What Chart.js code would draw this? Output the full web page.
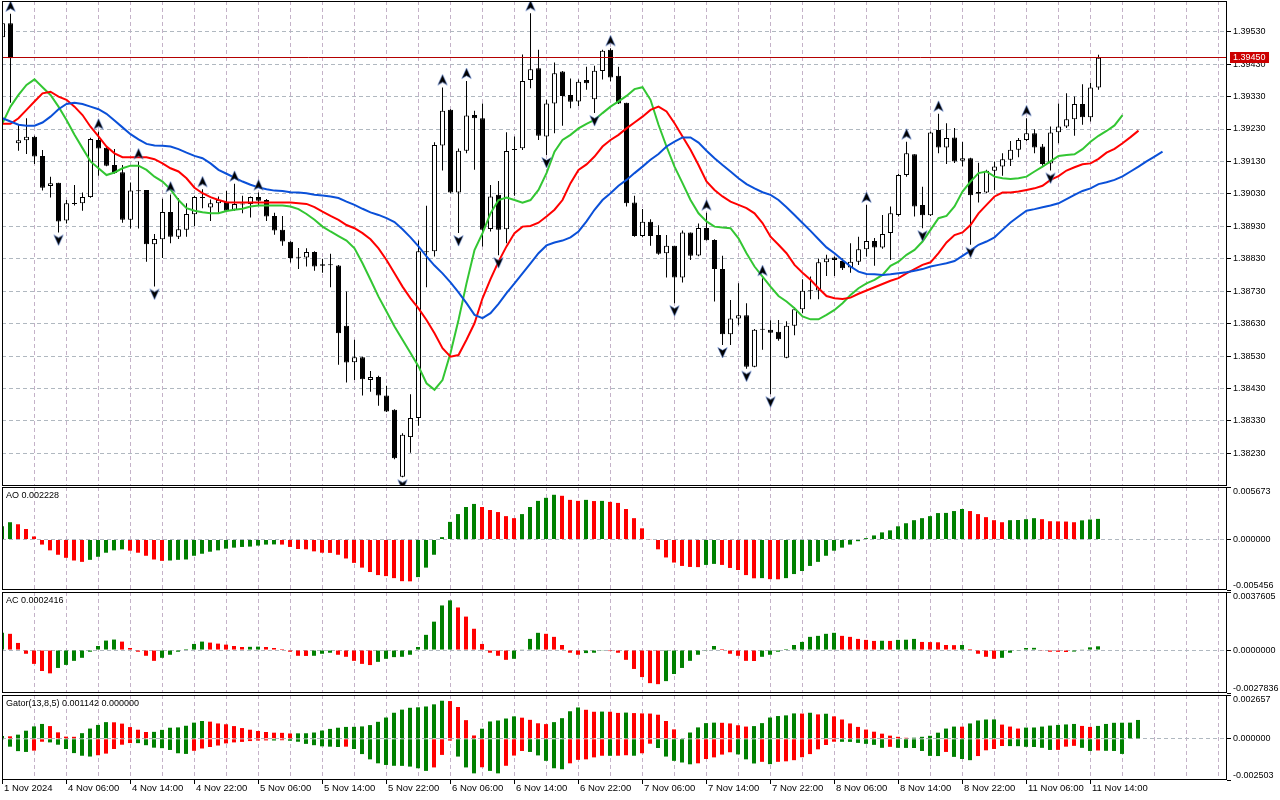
<!DOCTYPE html>
<html>
<head>
<meta charset="utf-8">
<title>Alligator / AO / AC / Gator</title>
<script src="https://cdn.jsdelivr.net/npm/chart.js@4.4.1/dist/chart.umd.min.js"></script>
<style>
  html, body { margin: 0; padding: 0; background: #fff; }
  #wrap { position: relative; width: 1280px; height: 800px; overflow: hidden; background: #fff; }
  canvas { position: absolute; left: 0; }
</style>
</head>
<body>
<div id="wrap">
  <canvas id="main" width="1280" height="487" style="top:0px"></canvas>
  <canvas id="ao" width="1280" height="105" style="top:486px"></canvas>
  <canvas id="ac" width="1280" height="103" style="top:591px"></canvas>
  <canvas id="gator" width="1280" height="107" style="top:694px"></canvas>
</div>
<script>
// ---- hourly candles, bar 0 = 1 Nov 22:00 ----
const opens = [
  1.39513, 1.39556, 1.39186, 1.39195, 1.39206, 1.39147, 1.39054, 1.39064, 1.38948, 1.39001,
  1.39001, 1.39020, 1.39196, 1.39172, 1.39119, 1.39097, 1.38950, 1.39040, 1.39042, 1.38875,
  1.38890, 1.38974, 1.38898, 1.38919, 1.38967, 1.39020, 1.38988, 1.39001, 1.39006, 1.38981,
  1.38999, 1.38999, 1.39020, 1.39011, 1.38962, 1.38919, 1.38882, 1.38835, 1.38834, 1.38851,
  1.38808, 1.38813, 1.38809, 1.38623, 1.38511, 1.38526, 1.38456, 1.38465, 1.38408, 1.38364,
  1.38158, 1.38280, 1.38339, 1.38851, 1.38853, 1.39179, 1.39289, 1.39034, 1.39163, 1.39273,
  1.39263, 1.38922, 1.39027, 1.38921, 1.39167, 1.39171, 1.39381, 1.39417, 1.39207, 1.39309,
  1.39407, 1.39335, 1.39315, 1.39381, 1.39322, 1.39409, 1.39474, 1.39394, 1.39311, 1.39003,
  1.38900, 1.38944, 1.38903, 1.38847, 1.38870, 1.38772, 1.38911, 1.38840, 1.38925, 1.38888,
  1.38798, 1.38597, 1.38646, 1.38656, 1.38497, 1.38613, 1.38611, 1.38605, 1.38525, 1.38623,
  1.38674, 1.38732, 1.38732, 1.38819, 1.38834, 1.38823, 1.38803, 1.38821, 1.38859, 1.38885,
  1.38865, 1.38909, 1.38965, 1.39088, 1.39152, 1.38996, 1.38964, 1.39227, 1.39173, 1.39204,
  1.39132, 1.39140, 1.39030, 1.39034, 1.39101, 1.39114, 1.39135, 1.39166, 1.39196, 1.39217,
  1.39176, 1.39124, 1.39220, 1.39238, 1.39260, 1.39307, 1.39266, 1.39358
];
const highs = [
  1.39561, 1.39585, 1.39243, 1.39263, 1.39209, 1.39165, 1.39083, 1.39064, 1.39011, 1.39057,
  1.39034, 1.39203, 1.39222, 1.39176, 1.39168, 1.39119, 1.39065, 1.39130, 1.39042, 1.38906,
  1.39015, 1.39028, 1.39017, 1.39001, 1.39024, 1.39044, 1.39013, 1.39022, 1.39039, 1.39061,
  1.39024, 1.39022, 1.39034, 1.39014, 1.38972, 1.38962, 1.38884, 1.38863, 1.38862, 1.38853,
  1.38830, 1.38845, 1.38811, 1.38729, 1.38580, 1.38528, 1.38484, 1.38469, 1.38438, 1.38366,
  1.38292, 1.38412, 1.38886, 1.38993, 1.39189, 1.39358, 1.39291, 1.39170, 1.39378, 1.39286,
  1.39309, 1.39057, 1.39070, 1.39220, 1.39207, 1.39460, 1.39587, 1.39474, 1.39320, 1.39435,
  1.39409, 1.39386, 1.39383, 1.39422, 1.39425, 1.39474, 1.39479, 1.39422, 1.39311, 1.39024,
  1.38983, 1.38952, 1.38933, 1.38903, 1.38870, 1.38917, 1.38911, 1.38939, 1.38972, 1.38890,
  1.38839, 1.38703, 1.38754, 1.38693, 1.38613, 1.38770, 1.38640, 1.38641, 1.38637, 1.38680,
  1.38767, 1.38775, 1.38831, 1.38842, 1.38837, 1.38831, 1.38878, 1.38898, 1.38996, 1.38894,
  1.38965, 1.38991, 1.39092, 1.39191, 1.39152, 1.39052, 1.39222, 1.39277, 1.39248, 1.39233,
  1.39190, 1.39141, 1.39126, 1.39104, 1.39130, 1.39155, 1.39193, 1.39202, 1.39263, 1.39229,
  1.39184, 1.39238, 1.39309, 1.39340, 1.39330, 1.39368, 1.39373, 1.39459
];
const lows = [
  1.39510, 1.39311, 1.39163, 1.39153, 1.39122, 1.39040, 1.39019, 1.38911, 1.38939, 1.38994,
  1.38978, 1.39018, 1.39086, 1.39115, 1.39092, 1.38941, 1.38923, 1.38923, 1.38821, 1.38744,
  1.38832, 1.38878, 1.38891, 1.38898, 1.38931, 1.38986, 1.38946, 1.38972, 1.38976, 1.38978,
  1.38970, 1.38957, 1.38996, 1.38946, 1.38904, 1.38870, 1.38818, 1.38798, 1.38806, 1.38793,
  1.38787, 1.38742, 1.38503, 1.38448, 1.38456, 1.38408, 1.38420, 1.38377, 1.38357, 1.38212,
  1.38156, 1.38232, 1.38315, 1.38742, 1.38837, 1.39102, 1.39032, 1.38909, 1.39155, 1.39104,
  1.38868, 1.38914, 1.38841, 1.38878, 1.39024, 1.39165, 1.39356, 1.39196, 1.39150, 1.39217,
  1.39240, 1.39294, 1.39301, 1.39351, 1.39279, 1.39383, 1.39377, 1.39307, 1.38991, 1.38898,
  1.38896, 1.38870, 1.38842, 1.38772, 1.38693, 1.38757, 1.38826, 1.38838, 1.38886, 1.38698,
  1.38564, 1.38564, 1.38625, 1.38491, 1.38495, 1.38549, 1.38412, 1.38577, 1.38523, 1.38594,
  1.38662, 1.38705, 1.38705, 1.38777, 1.38777, 1.38795, 1.38787, 1.38811, 1.38837, 1.38808,
  1.38861, 1.38826, 1.38960, 1.39083, 1.38960, 1.38924, 1.38962, 1.39155, 1.39122, 1.39125,
  1.39114, 1.38873, 1.39003, 1.39032, 1.39042, 1.39086, 1.39116, 1.39143, 1.39193, 1.39155,
  1.39117, 1.39102, 1.39186, 1.39233, 1.39209, 1.39243, 1.39253, 1.39351
];
const closes = [
  1.39556, 1.39448, 1.39195, 1.39206, 1.39145, 1.39049, 1.39063, 1.38945, 1.39001, 1.38999,
  1.39020, 1.39199, 1.39170, 1.39117, 1.39094, 1.38950, 1.39040, 1.39038, 1.38875, 1.38891,
  1.38974, 1.38898, 1.38921, 1.38968, 1.39020, 1.39017, 1.39001, 1.39011, 1.38978, 1.38999,
  1.38997, 1.39020, 1.39009, 1.38960, 1.38917, 1.38883, 1.38832, 1.38833, 1.38851, 1.38806,
  1.38813, 1.38810, 1.38600, 1.38510, 1.38526, 1.38458, 1.38465, 1.38408, 1.38359, 1.38215,
  1.38287, 1.38339, 1.38853, 1.38850, 1.39181, 1.39286, 1.39034, 1.39163, 1.39272, 1.39263,
  1.38919, 1.39022, 1.38919, 1.39162, 1.39165, 1.39378, 1.39414, 1.39209, 1.39309, 1.39402,
  1.39332, 1.39314, 1.39376, 1.39371, 1.39410, 1.39471, 1.39389, 1.39309, 1.39001, 1.38900,
  1.38944, 1.38900, 1.38845, 1.38870, 1.38772, 1.38911, 1.38839, 1.38925, 1.38887, 1.38798,
  1.38597, 1.38646, 1.38656, 1.38497, 1.38611, 1.38611, 1.38602, 1.38582, 1.38623, 1.38674,
  1.38731, 1.38730, 1.38819, 1.38831, 1.38826, 1.38801, 1.38821, 1.38859, 1.38885, 1.38865,
  1.38906, 1.38970, 1.39088, 1.39155, 1.38991, 1.38964, 1.39219, 1.39173, 1.39202, 1.39130,
  1.39140, 1.39026, 1.39036, 1.39101, 1.39114, 1.39137, 1.39166, 1.39196, 1.39217, 1.39173,
  1.39122, 1.39219, 1.39238, 1.39260, 1.39307, 1.39266, 1.39358, 1.39450
];

// ---- Alligator lines (as drawn, shifted forward) ----
const jaw = [
  1.39263, 1.39253, 1.39243, 1.39240, 1.39240, 1.39250, 1.39268, 1.39291, 1.39307, 1.39311,
  1.39307, 1.39299, 1.39291, 1.39277, 1.39256, 1.39235, 1.39214, 1.39198, 1.39184, 1.39179,
  1.39178, 1.39176, 1.39168, 1.39157, 1.39147, 1.39140, 1.39124, 1.39104, 1.39092, 1.39080,
  1.39068, 1.39058, 1.39050, 1.39044, 1.39040, 1.39039, 1.39035, 1.39034, 1.39032, 1.39027,
  1.39025, 1.39022, 1.39017, 1.39006, 1.38996, 1.38984, 1.38973, 1.38965, 1.38955, 1.38943,
  1.38921, 1.38896, 1.38868, 1.38837, 1.38809, 1.38785, 1.38757, 1.38726, 1.38693, 1.38657,
  1.38647, 1.38662, 1.38691, 1.38724, 1.38754, 1.38785, 1.38816, 1.38847, 1.38871, 1.38880,
  1.38886, 1.38896, 1.38914, 1.38945, 1.38981, 1.39011, 1.39032, 1.39055, 1.39073, 1.39094,
  1.39114, 1.39135, 1.39153, 1.39176, 1.39191, 1.39204, 1.39204, 1.39188, 1.39163, 1.39140,
  1.39119, 1.39099, 1.39078, 1.39060, 1.39047, 1.39035, 1.39027, 1.39011, 1.38989, 1.38965,
  1.38940, 1.38916, 1.38890, 1.38865, 1.38847, 1.38826, 1.38806, 1.38790, 1.38783, 1.38782,
  1.38780, 1.38782, 1.38785, 1.38788, 1.38793, 1.38798, 1.38806, 1.38811, 1.38816, 1.38823,
  1.38839, 1.38855, 1.38873, 1.38883, 1.38896, 1.38919, 1.38942, 1.38960, 1.38978, 1.38983,
  1.38989, 1.38994, 1.39001, 1.39014, 1.39027, 1.39039, 1.39047, 1.39060, 1.39066, 1.39073,
  1.39084, 1.39099, 1.39114, 1.39130, 1.39145, 1.39160
];
const teeth = [
  1.39246, 1.39246, 1.39263, 1.39289, 1.39315, 1.39340, 1.39345, 1.39330, 1.39320, 1.39299,
  1.39273, 1.39237, 1.39207, 1.39176, 1.39155, 1.39143, 1.39143, 1.39143, 1.39143, 1.39137,
  1.39124, 1.39109, 1.39099, 1.39078, 1.39049, 1.39032, 1.39020, 1.39011, 1.39004, 1.39003,
  1.39003, 1.39003, 1.39003, 1.39003, 1.39003, 1.39003, 1.39003, 1.39001, 1.38999, 1.38989,
  1.38975, 1.38962, 1.38950, 1.38934, 1.38924, 1.38909, 1.38890, 1.38862, 1.38826, 1.38785,
  1.38744, 1.38708, 1.38677, 1.38641, 1.38600, 1.38554, 1.38528, 1.38533, 1.38580, 1.38631,
  1.38708, 1.38767, 1.38821, 1.38868, 1.38909, 1.38929, 1.38931, 1.38941, 1.38960, 1.38981,
  1.39011, 1.39063, 1.39104, 1.39121, 1.39145, 1.39176, 1.39196, 1.39212, 1.39232, 1.39250,
  1.39268, 1.39289, 1.39299, 1.39284, 1.39248, 1.39207, 1.39166, 1.39119, 1.39068, 1.39042,
  1.39022, 1.39006, 1.38996, 1.38986, 1.38970, 1.38940, 1.38898, 1.38873, 1.38847, 1.38811,
  1.38787, 1.38765, 1.38739, 1.38715, 1.38708, 1.38706, 1.38710, 1.38722, 1.38732, 1.38742,
  1.38752, 1.38762, 1.38770, 1.38785, 1.38798, 1.38811, 1.38819, 1.38847, 1.38880, 1.38903,
  1.38911, 1.38934, 1.38970, 1.38996, 1.39022, 1.39034, 1.39034, 1.39037, 1.39042, 1.39047,
  1.39055, 1.39073, 1.39085, 1.39102, 1.39112, 1.39121, 1.39124, 1.39138, 1.39157, 1.39169,
  1.39186, 1.39205, 1.39225
];
const lips = [
  1.39248, 1.39299, 1.39335, 1.39366, 1.39383, 1.39359, 1.39335, 1.39299, 1.39258, 1.39212,
  1.39171, 1.39130, 1.39109, 1.39088, 1.39096, 1.39109, 1.39117, 1.39117, 1.39104, 1.39083,
  1.39068, 1.39044, 1.39011, 1.38986, 1.38978, 1.38973, 1.38970, 1.38970, 1.38977, 1.38981,
  1.38984, 1.38991, 1.38994, 1.38994, 1.38994, 1.38994, 1.38991, 1.38983, 1.38968, 1.38950,
  1.38929, 1.38914, 1.38900, 1.38886, 1.38862, 1.38816, 1.38765, 1.38713, 1.38667, 1.38621,
  1.38580, 1.38539, 1.38498, 1.38446, 1.38426, 1.38456, 1.38539, 1.38641, 1.38754, 1.38857,
  1.38909, 1.38970, 1.39011, 1.39019, 1.39011, 1.39003, 1.39011, 1.39042, 1.39094, 1.39160,
  1.39196, 1.39212, 1.39232, 1.39246, 1.39258, 1.39279, 1.39299, 1.39315, 1.39332, 1.39353,
  1.39359, 1.39320, 1.39243, 1.39176, 1.39114, 1.39063, 1.39011, 1.38970, 1.38945, 1.38929,
  1.38926, 1.38924, 1.38893, 1.38847, 1.38806, 1.38775, 1.38744, 1.38715, 1.38698, 1.38677,
  1.38652, 1.38643, 1.38643, 1.38657, 1.38672, 1.38693, 1.38718, 1.38739, 1.38754, 1.38765,
  1.38780, 1.38808, 1.38821, 1.38842, 1.38857, 1.38883, 1.38919, 1.38955, 1.38962, 1.38991,
  1.39037, 1.39068, 1.39094, 1.39099, 1.39083, 1.39078, 1.39076, 1.39078, 1.39083, 1.39099,
  1.39114, 1.39130, 1.39147, 1.39150, 1.39152, 1.39168, 1.39191, 1.39209, 1.39224, 1.39241,
  1.39273
];

// ---- Fractals (bar numbers) ----
const fractalUpBars = [1, 12, 17, 21, 25, 29, 32, 55, 58, 66, 76, 88, 95, 108, 113, 117, 128];
const fractalDownBars = [7, 19, 50, 57, 62, 68, 74, 84, 90, 93, 96, 115, 121, 131];

// ---- Awesome Oscillator ----
const aoValues = [
  0.001428, 0.001867, 0.001647, 0.001135, 0.000329, -0.000549, -0.001172, -0.001647, -0.001977, -0.002270,
  -0.002416, -0.002197, -0.001867, -0.001428, -0.001172, -0.001062, -0.001208, -0.001428, -0.001757, -0.002160,
  -0.002306, -0.002270, -0.002197, -0.002160, -0.001757, -0.001538, -0.001318, -0.001172, -0.000988, -0.000879,
  -0.000805, -0.000769, -0.000659, -0.000549, -0.000531, -0.000549, -0.000805, -0.001025, -0.001062, -0.001281,
  -0.001428, -0.001446, -0.001647, -0.002050, -0.002526, -0.003039, -0.003515, -0.003844, -0.003954, -0.004174,
  -0.004503, -0.004521, -0.004064, -0.003039, -0.001647, 0.000256, 0.001904, 0.002746, 0.003515, 0.003844,
  0.003515, 0.003185, 0.002965, 0.002526, 0.002306, 0.002746, 0.003515, 0.004174, 0.004503, 0.004833,
  0.004723, 0.004283, 0.004174, 0.004283, 0.004155, 0.004174, 0.004064, 0.003954, 0.003295, 0.002306,
  0.001208, -0.000037, -0.001062, -0.001940, -0.002489, -0.002856, -0.002965, -0.002984, -0.002746, -0.002636,
  -0.002746, -0.003075, -0.003295, -0.003844, -0.004192, -0.004174, -0.004283, -0.004302, -0.004174, -0.003734,
  -0.003405, -0.002856, -0.002416, -0.001757, -0.001208, -0.000879, -0.000549, -0.000183, 0.000146, 0.000439,
  0.000769, 0.000988, 0.001428, 0.001757, 0.002087, 0.002306, 0.002526, 0.002856, 0.002874, 0.003075,
  0.003295, 0.003075, 0.002746, 0.002416, 0.002087, 0.001867, 0.002087, 0.002105, 0.002197, 0.002306,
  0.002197, 0.001977, 0.001959, 0.001940, 0.001867, 0.002068, 0.002160, 0.002228
];

// ---- Accelerator Oscillator ----
const acValues = [
  0.001116, 0.001051, 0.000460, -0.000241, -0.000897, -0.001357, -0.001510, -0.001160, -0.000963, -0.000700,
  -0.000503, -0.000109, 0.000263, 0.000613, 0.000679, 0.000547, 0.000131, -0.000109, -0.000372, -0.000700,
  -0.000503, -0.000306, -0.000109, 0.000066, 0.000394, 0.000547, 0.000482, 0.000416, 0.000350, 0.000263,
  0.000197, 0.000208, 0.000219, 0.000197, 0.000131, 0.000066, -0.000109, -0.000372, -0.000383, -0.000372,
  -0.000241, -0.000175, -0.000306, -0.000438, -0.000700, -0.000897, -0.000974, -0.000766, -0.000569, -0.000460,
  -0.000438, -0.000306, 0.000197, 0.000985, 0.001839, 0.002889, 0.003218, 0.002758, 0.002167, 0.001379,
  0.000394, -0.000175, -0.000372, -0.000635, -0.000569, 0.000022, 0.000722, 0.001116, 0.001051, 0.000854,
  0.000328, -0.000175, -0.000306, -0.000197, -0.000175, -0.000044, -0.000066, -0.000175, -0.000635, -0.001226,
  -0.001751, -0.002145, -0.002211, -0.002014, -0.001554, -0.001160, -0.000700, -0.000306, -0.000044, 0.000263,
  0.000066, -0.000241, -0.000372, -0.000700, -0.000711, -0.000438, -0.000306, -0.000109, 0.000066, 0.000328,
  0.000525, 0.000854, 0.000919, 0.001051, 0.001116, 0.000919, 0.000854, 0.000722, 0.000657, 0.000591,
  0.000602, 0.000591, 0.000657, 0.000668, 0.000722, 0.000525, 0.000514, 0.000503, 0.000328, 0.000317,
  0.000328, 0.000066, -0.000241, -0.000438, -0.000569, -0.000503, -0.000175, -0.000022, 0.000131, 0.000142,
  -0.000044, -0.000109, -0.000114, -0.000127, -0.000099, 0.000044, 0.000175, 0.0002416
];

// ---- Gator oscillator (upper above zero, lower below zero) ----
const gatorUpper = [
  0.00017, 0.00015, 0.00025, 0.00049, 0.00075, 0.00090, 0.00077, 0.00039, 0.00013, 0.00012,
  0.00034, 0.00062, 0.00084, 0.00101, 0.00100, 0.00092, 0.00071, 0.00055, 0.00041, 0.00042,
  0.00054, 0.00067, 0.00069, 0.00079, 0.00098, 0.00108, 0.00104, 0.00093, 0.00088, 0.00077,
  0.00065, 0.00055, 0.00047, 0.00041, 0.00037, 0.00036, 0.00032, 0.00033, 0.000335, 0.00038,
  0.00050, 0.00060, 0.00067, 0.00072, 0.000725, 0.00075, 0.00083, 0.00103, 0.00129, 0.00158,
  0.00177, 0.00188, 0.00191, 0.00196, 0.00209, 0.00231, 0.00229, 0.00193, 0.00113, 0.00020,
  0.00061, 0.00105, 0.00111, 0.00123, 0.00136, 0.00128, 0.00115, 0.00094, 0.00089, 0.00101,
  0.00125, 0.00167, 0.00190, 0.00176, 0.00164, 0.00165, 0.00164, 0.00157, 0.00159, 0.00156,
  0.00154, 0.00153, 0.00146, 0.00108, 0.00057, 0.00003, 0.00038, 0.00069, 0.00095, 0.00098,
  0.00097, 0.00093, 0.00082, 0.00074, 0.00077, 0.00095, 0.00129, 0.00138, 0.00142, 0.00154,
  0.00153, 0.00158, 0.00148, 0.00152, 0.00136, 0.00117, 0.00093, 0.00072, 0.00056, 0.00043,
  0.00031, 0.00019, 0.00012, 0.00006, 0.000065, 0.00012, 0.00018, 0.00037, 0.00062, 0.00074,
  0.000735, 0.00093, 0.00111, 0.00117, 0.001175, 0.00086, 0.00074, 0.00062, 0.00068, 0.000685,
  0.00074, 0.00080, 0.00084, 0.00087, 0.00090, 0.00078, 0.00072, 0.00078, 0.00090, 0.00097,
  0.000975, 0.00098, 0.001142
];
const gatorLower = [
  -0.00002, -0.00048, -0.00075, -0.00080, -0.00072, -0.00018, -0.00022, -0.00036, -0.00062, -0.00087,
  -0.00103, -0.00108, -0.00100, -0.00090, -0.00062, -0.00036, -0.00026, -0.000265, -0.00039, -0.00054,
  -0.00057, -0.00068, -0.00088, -0.00092, -0.00073, -0.00059, -0.00050, -0.00041, -0.00028, -0.00022,
  -0.00019, -0.00014, -0.00011, -0.00010, -0.000105, -0.00009, -0.00012, -0.00018, -0.00031, -0.00039,
  -0.00046, -0.00048, -0.00050, -0.00048, -0.00062, -0.00093, -0.00125, -0.00149, -0.00159, -0.00164,
  -0.001645, -0.00169, -0.00179, -0.00195, -0.00174, -0.00098, -0.00011, -0.00108, -0.00174, -0.00210,
  -0.00173, -0.00195, -0.00210, -0.00164, -0.00102, -0.00074, -0.00080, -0.00101, -0.00134, -0.00179,
  -0.00185, -0.00149, -0.00128, -0.00125, -0.00113, -0.00103, -0.001035, -0.00103, -0.00100, -0.00103,
  -0.00088, -0.00030, -0.00056, -0.00108, -0.00134, -0.00144, -0.00155, -0.00149, -0.00123, -0.00113,
  -0.00096, -0.00082, -0.00095, -0.00125, -0.00150, -0.00140, -0.00154, -0.00140, -0.00137, -0.00130,
  -0.00112, -0.00093, -0.00064, -0.00038, -0.00018, -0.000185, -0.00019, -0.00025, -0.00031, -0.00037,
  -0.00055, -0.00049, -0.00055, -0.000555, -0.00056, -0.00074, -0.00104, -0.00105, -0.00080, -0.00110,
  -0.00123, -0.00130, -0.00105, -0.00070, -0.00062, -0.00044, -0.000445, -0.00045, -0.00049, -0.00050,
  -0.00055, -0.00068, -0.000675, -0.00048, -0.00043, -0.00055, -0.00074, -0.00071, -0.00073, -0.00074,
  -0.00092
];

// ---- axes ----
const timeLabels = [
  '1 Nov 2024', '4 Nov 06:00', '4 Nov 14:00', '4 Nov 22:00', '5 Nov 06:00', '5 Nov 14:00',
  '5 Nov 22:00', '6 Nov 06:00', '6 Nov 14:00', '6 Nov 22:00', '7 Nov 06:00', '7 Nov 14:00',
  '7 Nov 22:00', '8 Nov 06:00', '8 Nov 14:00', '8 Nov 22:00', '11 Nov 06:00', '11 Nov 14:00'
];
const priceTicks = [1.3823, 1.3833, 1.3843, 1.3853, 1.3863, 1.3873, 1.3883, 1.3893, 1.3903, 1.3913, 1.3923, 1.3933, 1.3943, 1.3953];
const priceRange = [1.381292, 1.396247];
const aoRange = [-0.005456, 0.005673];
const acRange = [-0.0027836, 0.0037605];
const gatorRange = [-0.002503, 0.002657];

// ---- look ----
const FONT = "'Liberation Sans', Arial, sans-serif";
const GRID_V = '#c4b2c8';
const GRID_H = '#b0b8c0';
const DASH = [4, 3];
const GREEN = '#008000';
const RED = '#ff0000';
const CLEAR = 'rgba(0,0,0,0)';
const X_MIN = -0.0625, X_MAX = 153.06;

Chart.defaults.font.family = FONT;
Chart.defaults.font.size = 9;
Chart.defaults.color = '#000';

function timeLabelAt(v) {
  if (v % 8 !== 0) return '';
  return timeLabels[v / 8] || '';
}

function xAxis(shift, withLabels) {
  return {
    type: 'linear',
    min: X_MIN + shift,
    max: X_MAX + shift,
    offset: false,
    afterBuildTicks: s => {
      const t = [];
      for (let v = 0; v <= 152; v += 4) t.push({ value: v });
      s.ticks = t;
    },
    afterFit: s => {
      s.height = withLabels ? 21 : 0;
      s.paddingLeft = 0; s.paddingRight = 0; s.paddingTop = 0; s.paddingBottom = 0;
    },
    grid: {
      color: GRID_V, lineWidth: 1, offset: false,
      drawTicks: withLabels, tickLength: 4, tickWidth: 1, tickBorderDash: [],
      tickColor: c => (c.tick && timeLabelAt(c.tick.value)) ? '#000' : CLEAR
    },
    border: { display: false, dash: DASH },
    ticks: {
      display: withLabels, autoSkip: false, maxRotation: 0, minRotation: 0,
      align: 'start', labelOffset: 2, padding: 0,
      font: { size: 9.5, lineHeight: 1 },
      callback: v => timeLabelAt(v)
    }
  };
}

function indAxis(range, digits) {
  return {
    position: 'right',
    min: range[0], max: range[1],
    afterBuildTicks: s => { s.ticks = [range[0], 0, range[1]].map(v => ({ value: v })); },
    afterFit: s => {
      s.width = 53;
      s.paddingTop = 0; s.paddingBottom = 0; s.paddingLeft = 0; s.paddingRight = 0;
    },
    grid: {
      color: c => (c.tick && c.tick.value === 0) ? GRID_H : CLEAR,
      drawTicks: true, tickLength: 4, tickColor: '#000', tickBorderDash: []
    },
    border: { display: false, dash: DASH },
    ticks: {
      padding: 2,
      font: { size: 9, lineHeight: 1.1 },
      callback: (v, i) => {
        const t = Number(v).toFixed(digits);
        if (i === 0) return [t, ''];
        if (i === 2) return ['', t];
        return t;
      }
    }
  };
}

function baseOptions(padBottom) {
  return {
    responsive: false,
    animation: false,
    events: [],
    devicePixelRatio: 1,
    layout: { padding: { left: 2, right: 0, top: 1, bottom: padBottom }, autoPadding: false },
    plugins: { legend: { display: false }, tooltip: { enabled: false } }
  };
}

const framePlugin = {
  id: 'frame',
  afterDraw(chart) {
    const a = chart.chartArea, ctx = chart.ctx;
    ctx.save();
    ctx.strokeStyle = '#000';
    ctx.lineWidth = 1;
    ctx.strokeRect(a.left + 0.5, a.top + 0.5, a.right - a.left - 1, a.bottom - a.top - 1);
    ctx.restore();
  }
};

function titlePlugin(text) {
  return {
    id: 'paneTitle',
    afterDraw(chart) {
      const ctx = chart.ctx, a = chart.chartArea;
      ctx.save();
      ctx.font = '9px ' + FONT;
      ctx.fillStyle = '#000';
      ctx.textBaseline = 'middle';
      ctx.fillText(text, a.left + 4, a.top + 9);
      ctx.restore();
    }
  };
}

const lastPricePlugin = {
  id: 'lastPrice',
  afterDatasetsDraw(chart) {
    const a = chart.chartArea, ctx = chart.ctx;
    const y = Math.floor(chart.scales.y.getPixelForValue(closes[closes.length - 1])) + 0.5;
    ctx.save();
    ctx.strokeStyle = '#b40000';
    ctx.lineWidth = 1;
    ctx.beginPath();
    ctx.moveTo(a.left, y);
    ctx.lineTo(a.right, y);
    ctx.stroke();
    ctx.restore();
  },
  afterDraw(chart) {
    const a = chart.chartArea, ctx = chart.ctx;
    const last = closes[closes.length - 1];
    const y = Math.floor(chart.scales.y.getPixelForValue(last)) + 0.5;
    ctx.save();
    ctx.fillStyle = '#cc0000';
    ctx.fillRect(a.right + 3, y - 5.5, 39, 11);
    ctx.fillStyle = '#fff';
    ctx.font = '9px ' + FONT;
    ctx.textBaseline = 'middle';
    ctx.fillText(last.toFixed(5), a.right + 6, y + 0.5);
    ctx.restore();
  }
};

// fractal arrow glyph, drawn off-centre so the point itself sits on the high / low
function arrowImage(up) {
  const c = document.createElement('canvas');
  c.width = 11; c.height = 28;
  const g = c.getContext('2d');
  const cy = up ? 6.5 : 21.5;
  const s = up ? 1 : -1;
  g.beginPath();
  g.moveTo(5.5, cy - 5.5 * s);
  g.lineTo(10.2, cy + 5 * s);
  g.lineTo(5.5, cy + 2.2 * s);
  g.lineTo(0.8, cy + 5 * s);
  g.closePath();
  g.fillStyle = '#000';
  g.fill();
  g.strokeStyle = 'rgba(90,130,215,0.6)';
  g.lineWidth = 0.9;
  g.stroke();
  return c;
}

const toPoints = arr => arr.map((v, i) => ({ x: i, y: v }));
const upDownColors = arr => arr.map((v, i) => (i === 0 || Math.abs(v) > Math.abs(arr[i - 1])) ? GREEN : RED);
const risingColors = arr => arr.map((v, i) => (i === 0 || v > arr[i - 1]) ? GREEN : RED);

// ---- main price pane ----
new Chart(document.getElementById('main'), {
  type: 'bar',
  data: {
    datasets: [
      {
        label: 'wicks',
        data: lows.map((l, i) => ({ x: i, y: [l, highs[i]] })),
        backgroundColor: '#000',
        borderWidth: 0,
        barThickness: 1,
        grouped: false,
        inflateAmount: 0,
        order: 4
      },
      {
        label: 'bodies',
        data: opens.map((o, i) => ({ x: i, y: [o, closes[i]] })),
        backgroundColor: opens.map((o, i) => closes[i] > o ? '#fff' : '#000'),
        borderColor: '#000',
        borderWidth: 1,
        borderSkipped: false,
        barThickness: 5,
        minBarLength: 1,
        grouped: false,
        inflateAmount: 0,
        order: 3
      },
      { type: 'line', label: 'Jaw', data: toPoints(jaw), borderColor: '#0a50d8', borderWidth: 2, pointRadius: 0, tension: 0, order: 2 },
      { type: 'line', label: 'Teeth', data: toPoints(teeth), borderColor: '#ff0000', borderWidth: 2, pointRadius: 0, tension: 0, order: 2 },
      { type: 'line', label: 'Lips', data: toPoints(lips), borderColor: '#33c633', borderWidth: 2, pointRadius: 0, tension: 0, order: 2 },
      {
        type: 'line', label: 'Fractals up', showLine: false,
        data: fractalUpBars.map(i => ({ x: i, y: highs[i] })),
        pointStyle: arrowImage(true), pointRadius: 5, order: 1
      },
      {
        type: 'line', label: 'Fractals down', showLine: false,
        data: fractalDownBars.map(i => ({ x: i, y: lows[i] })),
        pointStyle: arrowImage(false), pointRadius: 5, order: 1
      }
    ]
  },
  options: Object.assign(baseOptions(1), {
    scales: {
      x: xAxis(0, false),
      y: {
        position: 'right',
        min: priceRange[0], max: priceRange[1],
        afterBuildTicks: s => { s.ticks = priceTicks.map(v => ({ value: v })); },
        afterFit: s => {
          s.width = 53;
          s.paddingTop = 0; s.paddingBottom = 0; s.paddingLeft = 0; s.paddingRight = 0;
        },
        grid: { color: GRID_H, drawTicks: true, tickLength: 4, tickColor: '#000', tickBorderDash: [] },
        border: { display: false, dash: DASH },
        ticks: { padding: 2, font: { size: 9 }, callback: v => Number(v).toFixed(5) }
      }
    }
  }),
  plugins: [lastPricePlugin, framePlugin]
});

// ---- AO ----
new Chart(document.getElementById('ao'), {
  type: 'bar',
  data: {
    datasets: [{
      data: toPoints(aoValues),
      backgroundColor: risingColors(aoValues),
      borderWidth: 0, barThickness: 4, grouped: false, inflateAmount: 0
    }]
  },
  options: Object.assign(baseOptions(1), {
    scales: { x: xAxis(0.0625, false), y: indAxis(aoRange, 6) }
  }),
  plugins: [framePlugin, titlePlugin('AO ' + aoValues[aoValues.length - 1].toFixed(6))]
});

// ---- AC ----
new Chart(document.getElementById('ac'), {
  type: 'bar',
  data: {
    datasets: [{
      data: toPoints(acValues),
      backgroundColor: risingColors(acValues),
      borderWidth: 0, barThickness: 4, grouped: false, inflateAmount: 0
    }]
  },
  options: Object.assign(baseOptions(1), {
    scales: { x: xAxis(0.0625, false), y: indAxis(acRange, 7) }
  }),
  plugins: [framePlugin, titlePlugin('AC ' + acValues[acValues.length - 1].toFixed(7))]
});

// ---- Gator ----
new Chart(document.getElementById('gator'), {
  type: 'bar',
  data: {
    datasets: [
      {
        data: toPoints(gatorUpper),
        backgroundColor: upDownColors(gatorUpper),
        borderWidth: 0, barThickness: 4, grouped: false, inflateAmount: 0
      },
      {
        data: toPoints(gatorLower),
        backgroundColor: upDownColors(gatorLower),
        borderWidth: 0, barThickness: 4, grouped: false, inflateAmount: 0
      }
    ]
  },
  options: Object.assign(baseOptions(0), {
    scales: { x: xAxis(0.0625, true), y: indAxis(gatorRange, 6) }
  }),
  plugins: [framePlugin, titlePlugin('Gator(13,8,5) ' + gatorUpper[gatorUpper.length - 1].toFixed(6) + ' ' + (0).toFixed(6))]
});
</script>
</body>
</html>
